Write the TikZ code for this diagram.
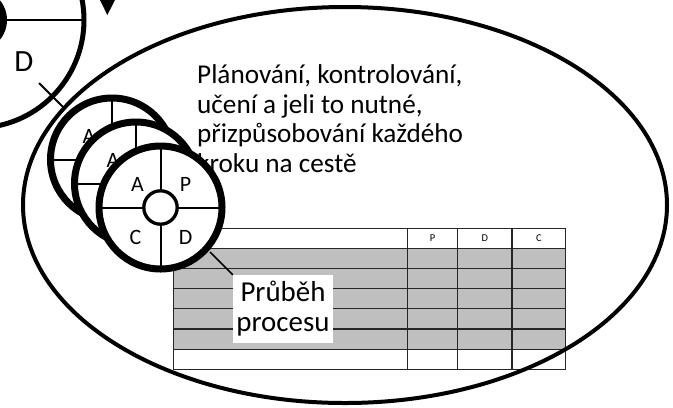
\documentclass[tikz,border=0pt]{standalone}
\usepackage{fontspec}
\setmainfont{Carlito}
\usetikzlibrary{arrows.meta}

\tikzset{
  outline/.style={draw=black, line width=4bp},
  bigrim/.style={draw=black, line width=5bp},
  thinline/.style={draw=black, line width=2bp},
  rim/.style={draw=black, fill=white, line width=7bp},
  spoke/.style={draw=black, line width=2bp},
  hubring/.style={draw=black, fill=white, line width=3.3bp},
  wheeltext/.style={inner sep=0pt, font=\fontsize{22}{22}\selectfont},
  bodytext/.style={inner sep=0pt, anchor=base west, font=\fontsize{27.3}{29.5}\selectfont},
  grid/.style={draw=black!85, line width=1.2bp},
  headtext/.style={inner sep=0pt, font=\fontsize{10.5}{10.5}\selectfont},
  % wheel: rim, four spokes, hub and the four phase letters
  pdcawheel/.pic={
    \draw[rim] (0,0) circle[radius=61.5];
    \draw[spoke] (0,-61.5) -- (0,61.5) (-61.5,0) -- (61.5,0);
    \draw[hubring] (0,0) circle[radius=16.7];
    \node[wheeltext] (-a) at (-23,-23) {A};
    \node[wheeltext] (-p) at (25,-23) {P};
    \node[wheeltext] (-c) at (-25,30) {C};
    \node[wheeltext] (-d) at (25,30) {D};
  }
}

\begin{document}
\begin{tikzpicture}[x=1bp, y=-1bp]
  \useasboundingbox (0,0) rectangle (673,407);
  \clip (0,0) rectangle (673,407);

  % large wheel in the top-left corner
  \coordinate (bigc) at (-24,20);
  \draw[thinline] (bigc) -- (84,20);
  \draw[bigrim] (bigc) circle[radius=108];
  \fill[black] (bigc) circle[radius=31];
  \node[inner sep=0pt, font=\fontsize{31}{31}\selectfont] (bigd) at (24,62) {D};
  \coordinate (tickA) at (39,83);
  \coordinate (tickB) at (63,107);
  \draw[thinline] (tickA) -- (tickB);
  \fill[black] (100,0) -- (115,0) -- (107.3,15) -- cycle;

  % explanatory text
  \node[bodytext] (t1) at (197,83.5) {Plánování, kontrolování,};
  \node[bodytext] (t2) at (197,113) {učení a jeli to nutné,};
  \node[bodytext] (t3) at (197,142.5) {přizpůsobování každého};
  \node[bodytext] (t4) at (197,172) {kroku na cestě};

  % table
  \fill[black!25] (173.3,248.4) rectangle (565.7,349.1);
  \foreach \yy in {248.4,268.5,288.6,308.8,328.9,349.1}
    \draw[grid] (173.3,\yy) -- (565.7,\yy);
  \foreach \xx in {407.3,457.7,512}
    \draw[grid] (\xx,228.3) -- (\xx,369.3);
  \draw[grid] (173.3,228.3) rectangle (565.7,369.3);
  \node[headtext] (hp) at (432.5,238.3) {P};
  \node[headtext] (hd) at (484.8,238.3) {D};
  \node[headtext] (hc) at (538.8,238.3) {C};

  % label box
  \node[fill=white, inner sep=0pt, minimum width=100bp, minimum height=68bp,
        align=center, font=\fontsize{29}{30}\selectfont] (label) at (283,309)
        {Průběh\\procesu};

  % surrounding ellipse
  \draw[outline] (345,205) ellipse[x radius=322, y radius=198];

  % stacked wheels, back to front
  \pic (w3) at (112,159.5) {pdcawheel};
  \pic (w2) at (136,183.5) {pdcawheel};
  \pic (w1) at (160.5,207.5) {pdcawheel};

  % leader from the front wheel to the label
  \coordinate (lead) at (210,252);
  \draw[line width=1.6bp] (lead) -- (label.north west);
\end{tikzpicture}
\end{document}
